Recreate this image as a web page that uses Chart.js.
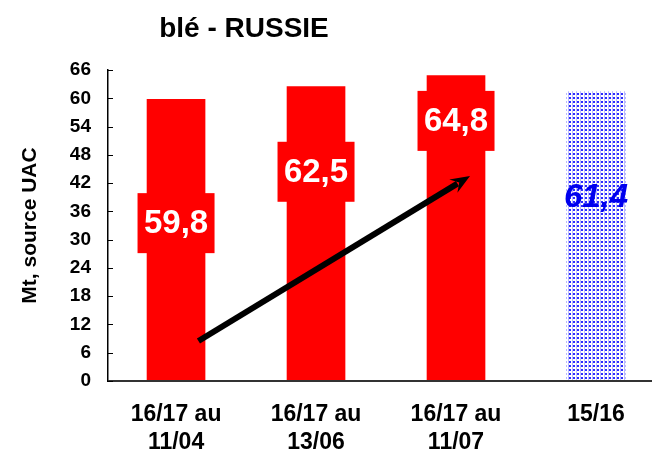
<!DOCTYPE html>
<html>
<head>
<meta charset="utf-8">
<script src="https://cdn.jsdelivr.net/npm/chart.js@4"></script>
<style>
  html, body { margin: 0; padding: 0; background: #fff; }
  #wrap { width: 652px; height: 454px; }
</style>
</head>
<body>
<div id="wrap"><canvas id="bleChart" width="652" height="454"></canvas></div>
<script>
// données
const categories = [["16/17 au", "11/04"], ["16/17 au", "13/06"], ["16/17 au", "11/07"], ["15/16"]];
const values = [59.8, 62.5, 64.8, 61.4];
const valueLabels = ["59,8", "62,5", "64,8", "61,4"];
const yTicks = [0, 6, 12, 18, 24, 30, 36, 42, 48, 54, 60, 66];

const FONT = "'Liberation Sans', Arial, sans-serif";

// motif pointillé bleu pour 15/16
function dotPattern() {
  const c = document.createElement("canvas");
  c.width = 4; c.height = 4;
  const g = c.getContext("2d");
  g.fillStyle = "#ffffff"; g.fillRect(0, 0, 4, 4);
  g.fillStyle = "#b8b8ff"; g.fillRect(0, 0, 1, 4);
  g.fillStyle = "#2b2bff"; g.fillRect(1, 1, 2, 2);
  return g.createPattern(c, "repeat");
}

// étiquettes, flèche, titre
const decor = {
  id: "decor",
  afterDatasetsDraw(chart) {
    const ctx = chart.ctx;
    const x = chart.scales.x, y = chart.scales.y;
    const labelAt = [33.5, 44.4, 55.2, 39];

    ctx.save();
    // axe horizontal jusqu'au bord droit
    ctx.strokeStyle = "#333"; ctx.lineWidth = 2;
    ctx.beginPath(); ctx.moveTo(x.left, y.bottom); ctx.lineTo(chart.width, y.bottom); ctx.stroke();

    // petites graduations intérieures
    ctx.strokeStyle = "#000"; ctx.lineWidth = 1;
    yTicks.forEach(t => {
      const py = Math.round(y.getPixelForValue(t)) + 0.5;
      ctx.beginPath(); ctx.moveTo(x.left, py); ctx.lineTo(x.left + 5, py); ctx.stroke();
    });

    // flèche
    const x0 = x.getPixelForValue(0.16), y0 = y.getPixelForValue(8.5);
    const x1 = x.getPixelForValue(2.1), y1 = y.getPixelForValue(43.5);
    const ang = Math.atan2(y1 - y0, x1 - x0);
    const head = 21;
    ctx.strokeStyle = "#000"; ctx.fillStyle = "#000"; ctx.lineWidth = 6;
    ctx.beginPath(); ctx.moveTo(x0, y0);
    ctx.lineTo(x1 - head * 0.7 * Math.cos(ang), y1 - head * 0.7 * Math.sin(ang)); ctx.stroke();
    ctx.beginPath(); ctx.moveTo(x1, y1);
    ctx.lineTo(x1 - head * Math.cos(ang - 0.38), y1 - head * Math.sin(ang - 0.38));
    ctx.lineTo(x1 - head * 0.6 * Math.cos(ang), y1 - head * 0.6 * Math.sin(ang));
    ctx.lineTo(x1 - head * Math.cos(ang + 0.38), y1 - head * Math.sin(ang + 0.38));
    ctx.closePath(); ctx.fill();

    // étiquettes de valeurs
    ctx.textAlign = "center"; ctx.textBaseline = "middle";
    values.forEach((v, i) => {
      const cx = x.getPixelForValue(i), cy = y.getPixelForValue(labelAt[i]);
      if (i < 3) {
        ctx.fillStyle = "#ff0000";
        ctx.fillRect(cx - 38.5, cy - 30, 77, 60);
        ctx.fillStyle = "#ffffff";
        ctx.font = "bold 33px " + FONT;
      } else {
        ctx.fillStyle = "#0000ee";
        ctx.font = "italic bold 33px " + FONT;
      }
      ctx.fillText(valueLabels[i], cx, cy + 1);
    });

    // titre
    ctx.fillStyle = "#000";
    ctx.font = "bold 28px " + FONT;
    ctx.fillText("blé - RUSSIE", 244, 29);
    ctx.restore();
  }
};

new Chart(document.getElementById("bleChart").getContext("2d"), {
  type: "bar",
  data: {
    datasets: [
      {
        data: values.map((v, i) => ({ x: i, y: v })),
        backgroundColor: ["#ff0000", "#ff0000", "#ff0000", dotPattern()],
        barThickness: 58,
        borderWidth: 0,
      },
    ],
  },
  options: {
    responsive: false,
    animation: false,
    layout: { padding: { top: 70, right: 0, left: 0, bottom: 0 } },
    plugins: { legend: { display: false }, tooltip: { enabled: false }, title: { display: false } },
    scales: {
      x: {
        type: "linear",
        offset: false,
        min: -0.486,
        max: 3.4,
        afterBuildTicks: (s) => { s.ticks = [0, 1, 2, 3].map(v => ({ value: v })); },
        afterFit: (s) => { s.height = 73; },
        grid: { display: false, drawTicks: false, offset: false },
        border: { display: false },
        ticks: {
          autoSkip: false,
          maxRotation: 0,
          padding: 20,
          color: "#000",
          font: { family: FONT, size: 23, weight: "bold", lineHeight: 1.22 },
          callback: (v) => categories[v],
        },
      },
      y: {
        min: 0,
        max: 66,
        afterBuildTicks: (s) => { s.ticks = yTicks.map(v => ({ value: v })); },
        afterFit: (s) => { s.width = 108; },
        grid: { display: false, drawTicks: false },
        border: { display: true, color: "#000", width: 1.5 },
        ticks: {
          padding: 17,
          color: "#000",
          font: { family: FONT, size: 19, weight: "bold" },
        },
        title: {
          display: true,
          text: "Mt, source UAC",
          color: "#000",
          padding: { top: 18, bottom: 0 },
          font: { family: FONT, size: 21, weight: "bold", lineHeight: 1.2 },
        },
      },
    },
  },
  plugins: [decor],
});
</script>
</body>
</html>
